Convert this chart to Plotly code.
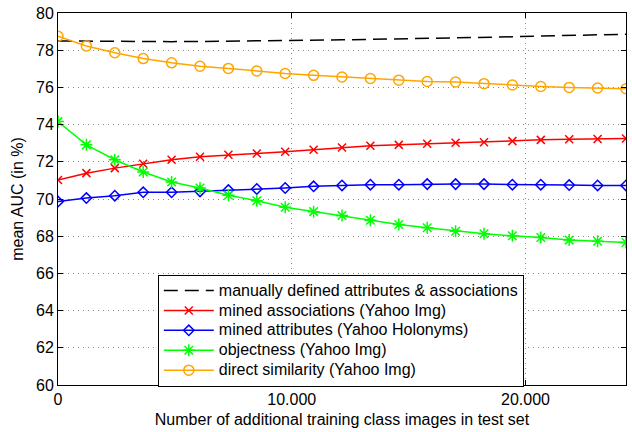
import plotly.graph_objects as go

step = 1215
x_vals = [i * step for i in range(21)]

manual = [78.50, 78.48, 78.47, 78.46, 78.46, 78.47, 78.48, 78.50, 78.52, 78.54, 78.56,
          78.58, 78.60, 78.62, 78.65, 78.68, 78.72, 78.76, 78.78, 78.80, 78.86]
mined_assoc = [71.02, 71.39, 71.66, 71.90, 72.11, 72.27, 72.38, 72.45, 72.54, 72.65, 72.77,
               72.86, 72.91, 72.97, 73.02, 73.05, 73.11, 73.18, 73.21, 73.23, 73.25]
mined_attr = [69.86, 70.05, 70.18, 70.36, 70.36, 70.41, 70.48, 70.54, 70.59, 70.68, 70.73,
              70.77, 70.77, 70.80, 70.80, 70.80, 70.77, 70.77, 70.75, 70.73, 70.73]
objectness = [74.16, 72.91, 72.11, 71.45, 70.91, 70.59, 70.20, 69.91, 69.56, 69.32, 69.11,
              68.86, 68.63, 68.45, 68.27, 68.13, 68.02, 67.93, 67.79, 67.73, 67.66]
direct_sim = [78.75, 78.23, 77.86, 77.55, 77.32, 77.14, 77.02, 76.88, 76.75, 76.65, 76.56,
              76.48, 76.39, 76.32, 76.29, 76.20, 76.13, 76.05, 76.00, 75.97, 75.93]

names = ["manually defined attributes & associations",
         "mined associations (Yahoo Img)",
         "mined attributes (Yahoo Holonyms)",
         "objectness (Yahoo Img)",
         "direct similarity (Yahoo Img)"]

y_ticks = list(range(60, 81, 2))
x_tickvals = [0, 10000, 20000]
x_ticktext = ["0", "10.000", "20.000"]

FONT = "Liberation Sans, Arial, sans-serif"


def leg(name):
    return '<span style="font-size:16px">' + name.replace("&", "&amp;") + "</span>"


fig = go.Figure()
fig.add_trace(go.Scatter(x=x_vals, y=manual, name=leg(names[0]), mode="lines",
                         line=dict(color="black", width=1.5, dash="14px,7px")))
fig.add_trace(go.Scatter(x=x_vals, y=mined_assoc, name=leg(names[1]), mode="lines+markers",
                         line=dict(color="#ff0000", width=1.5),
                         marker=dict(symbol="x-thin-open", size=8,
                                     line=dict(color="#ff0000", width=1.5))))
fig.add_trace(go.Scatter(x=x_vals, y=mined_attr, name=leg(names[2]), mode="lines+markers",
                         line=dict(color="#0000ff", width=1.5),
                         marker=dict(symbol="diamond-open", size=8, color="#0000ff",
                                     line=dict(color="#0000ff", width=1.5))))
fig.add_trace(go.Scatter(x=x_vals, y=objectness, name=leg(names[3]), mode="lines+markers",
                         line=dict(color="#00ff00", width=1.5),
                         marker=dict(symbol="asterisk-open", size=10,
                                     line=dict(color="#00ff00", width=1.5))))
fig.add_trace(go.Scatter(x=x_vals, y=direct_sim, name=leg(names[4]), mode="lines+markers",
                         line=dict(color="#ffa500", width=1.5),
                         marker=dict(symbol="circle-open", size=10, color="#ffa500",
                                     line=dict(color="#ffa500", width=1.5))))

fig.update_layout(
    width=632, height=432,
    margin=dict(l=58, r=5, t=11, b=47),
    paper_bgcolor="white", plot_bgcolor="white",
    font=dict(family=FONT, size=16, color="black"),
    showlegend=True,
    legend=dict(x=0.1757, y=0.2968, xanchor="left", yanchor="top",
                bordercolor="black", borderwidth=1, bgcolor="white",
                font=dict(family=FONT, size=13, color="black"),
                tracegroupgap=0, itemwidth=50),
    xaxis=dict(range=[0, 24300], tickvals=x_tickvals, ticktext=x_ticktext,
               ticks="inside", ticklen=5, tickcolor="black",
               showline=True, linecolor="black", linewidth=1, mirror="ticks",
               showgrid=True, gridcolor="#888888", griddash="1px,4px", gridwidth=1,
               zeroline=False,
               title=dict(text="Number of additional training class images in test set",
                          font=dict(size=16), standoff=6)),
    yaxis=dict(range=[60, 80], tickvals=y_ticks,
               ticks="inside", ticklen=5, tickcolor="black",
               showline=True, linecolor="black", linewidth=1, mirror="ticks",
               showgrid=True, gridcolor="#888888", griddash="1px,4px", gridwidth=1,
               zeroline=False,
               title=dict(text="mean AUC (in %)", font=dict(size=16), standoff=8)),
)

fig.write_html("out.html", config={"displayModeBar": False},
               post_script="document.body.style.margin='0';document.body.style.padding='0';")
